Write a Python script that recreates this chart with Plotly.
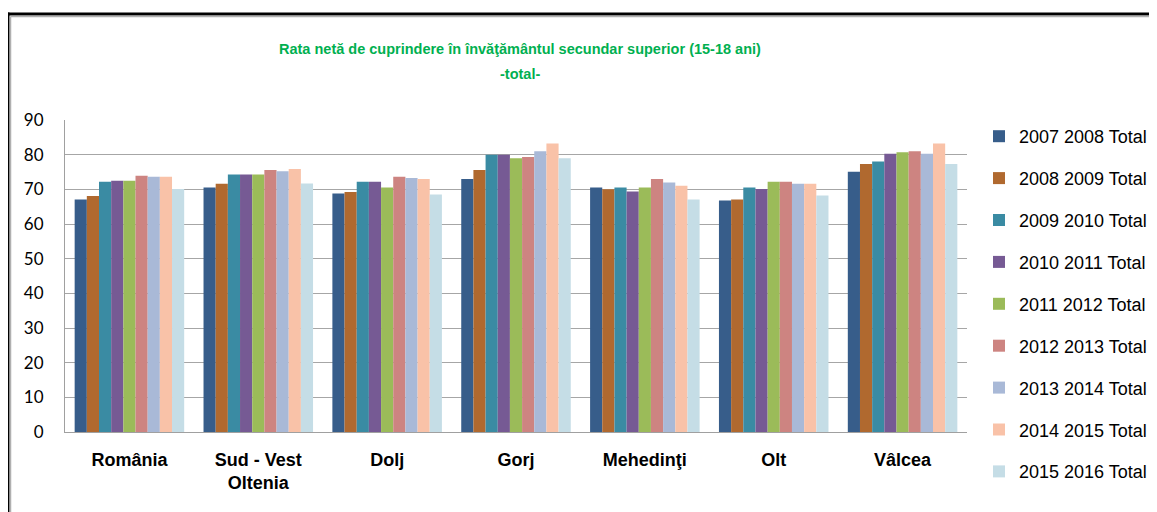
import plotly.graph_objects as go

categories = ["România", "Sud - Vest<br>Oltenia", "Dolj", "Gorj", "Mehedinţi", "Olt", "Vâlcea"]
series_names = ["2007 2008 Total", "2008 2009 Total", "2009 2010 Total", "2010 2011 Total",
                "2011 2012 Total", "2012 2013 Total", "2013 2014 Total", "2014 2015 Total",
                "2015 2016 Total"]
s2007 = [67.1, 70.5, 68.8, 73.0, 70.5, 66.8, 75.1]
s2008 = [68.1, 71.6, 69.2, 75.6, 70.0, 67.1, 77.3]
s2009 = [72.2, 74.3, 72.2, 80.0, 70.5, 70.5, 78.0]
s2010 = [72.5, 74.3, 72.2, 80.0, 69.4, 70.1, 80.3]
s2011 = [72.5, 74.3, 70.5, 79.0, 70.5, 72.2, 80.7]
s2012 = [73.9, 75.6, 73.6, 79.3, 73.0, 72.2, 81.0]
s2013 = [73.6, 75.2, 73.3, 81.0, 72.0, 71.6, 80.3]
s2014 = [73.6, 75.9, 73.0, 83.2, 71.0, 71.6, 83.2]
s2015 = [70.1, 71.7, 68.5, 79.0, 67.1, 68.2, 77.3]
series_values = [s2007, s2008, s2009, s2010, s2011, s2012, s2013, s2014, s2015]
colors = ["#375D8A", "#B0692F", "#3A8BA3", "#765A94", "#9BBB59", "#CD8481",
          "#A9B9D7", "#F9C2A8", "#C5DDE6"]
y_ticks = [0, 10, 20, 30, 40, 50, 60, 70, 80, 90]
title_line1 = "Rata netă de cuprindere în învăţământul secundar superior (15-18 ani)"
title_line2 = "-total-"

# page body has an 8px default margin: the figure is sized so it fits the window
OFF = 8
SW, SH = 1157, 512                 # screen size
L, R, T, B = 65, 967, 120, 432     # plot area in screen pixels
W, H = SW - OFF, SH - OFF

fig = go.Figure()
for i, (name, vals) in enumerate(zip(series_names, series_values)):
    fig.add_trace(go.Bar(
        x=categories, y=vals, name=name, legendgroup=name,
        marker=dict(color=colors[i], line=dict(width=0)),
    ))

def px(xp):
    return (xp - L) / (R - L)

def py(yp):
    return (B - yp) / (B - T)

sans = "Liberation Sans, Arial, sans-serif"
title_font = dict(family=sans, size=14.5, color="#00B050", weight="bold")

fig.update_layout(
    width=W, height=H,
    margin=dict(l=L - OFF, r=SW - R, t=T - OFF, b=SH - B, pad=0, autoexpand=False),
    paper_bgcolor="white", plot_bgcolor="white",
    barmode="group", bargap=0.15, bargroupgap=0,
    showlegend=True,
    legend=dict(
        x=px(979), y=py(118), xanchor="left", yanchor="top",
        font=dict(family=sans, size=18, color="black"),
        tracegroupgap=15.5, bgcolor="rgba(0,0,0,0)", maxheight=420,
    ),
    xaxis=dict(
        showgrid=False, showline=True, linecolor="#A0A0A0", linewidth=1,
        ticks="", tickfont=dict(family=sans, size=18, color="black", weight="bold"),
        ticklabelstandoff=11,
    ),
    yaxis=dict(
        range=[0, 90], tickvals=y_ticks, showgrid=True, gridcolor="#A6A6A6", gridwidth=1,
        showline=True, linecolor="#A0A0A0", linewidth=1, zeroline=False,
        ticks="", tickfont=dict(family="Lato, Open Sans, sans-serif", size=17, color="black"),
        ticklabelstandoff=17,
    ),
    annotations=[
        dict(x=px(520), y=py(49), xref="paper", yref="paper", xanchor="center", yanchor="middle",
             text=title_line1, showarrow=False, font=title_font),
        dict(x=px(520), y=py(74), xref="paper", yref="paper", xanchor="center", yanchor="middle",
             text=title_line2, showarrow=False, font=title_font),
    ],
    shapes=[
        dict(type="line", xref="paper", yref="paper", x0=px(8), x1=px(1160), y0=py(14), y1=py(14),
             line=dict(color="black", width=3)),
        dict(type="line", xref="paper", yref="paper", x0=px(8), x1=px(8), y0=py(515), y1=py(12.5),
             line=dict(color="black", width=3)),
        dict(type="line", xref="paper", yref="paper", x0=px(10.5), x1=px(1160), y0=py(16.5), y1=py(16.5),
             line=dict(color="#B0B0B0", width=1.5)),
        dict(type="line", xref="paper", yref="paper", x0=px(10.5), x1=px(10.5), y0=py(515), y1=py(16.5),
             line=dict(color="#B0B0B0", width=1.5)),
    ],
)

fig.write_html("out.html")
